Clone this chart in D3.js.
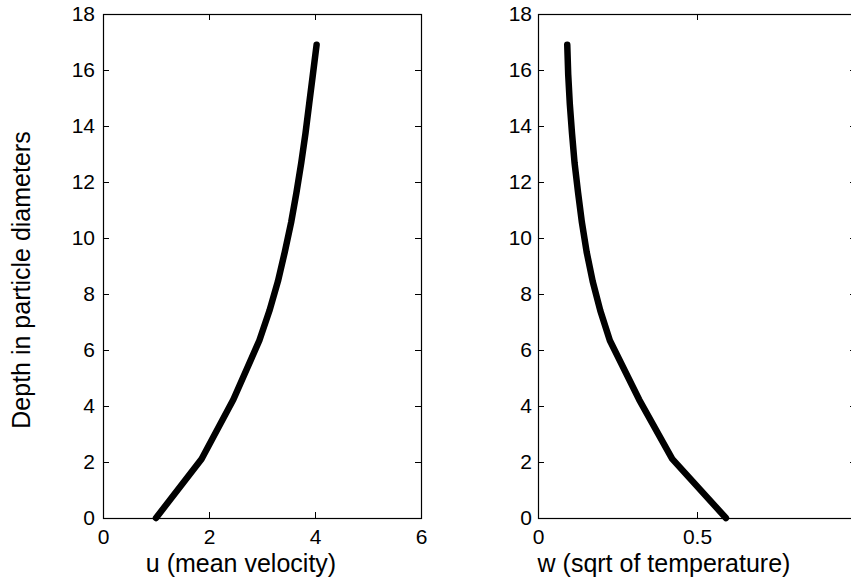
<!DOCTYPE html>
<html>
<head>
<meta charset="utf-8">
<script src="https://cdn.jsdelivr.net/npm/d3@7"></script>
<style>
  html, body { margin: 0; padding: 0; background: #fff; }
  svg { display: block; font-family: "Liberation Sans", Arial, Helvetica, sans-serif; }
</style>
</head>
<body>
<svg id="chart" width="851" height="579"></svg>
<script>
// Depth below the surface, in particle diameters
const depth = [0, 2.11, 4.23, 6.34, 7.4, 8.45, 9.5, 10.56, 11.62, 12.68, 13.73, 14.79, 15.84, 16.9];
// Mean velocity profile u(depth)
const meanVelocity = [1.0, 1.86, 2.46, 2.95, 3.14, 3.30, 3.43, 3.55, 3.65, 3.74, 3.82, 3.89, 3.96, 4.03];
// Square root of granular temperature w(depth)
const sqrtTemperature = [0.591, 0.422, 0.318, 0.226, 0.196, 0.172, 0.153, 0.138, 0.126, 0.115, 0.107, 0.100, 0.095, 0.092];

const yTicks = [0, 2, 4, 6, 8, 10, 12, 14, 16, 18];
const uTicks = [0, 2, 4, 6];
const wTicks = [0, 0.5, 1];

const yLabel = "Depth in particle diameters";
const uLabel = "u (mean velocity)";
const wLabel = "w (sqrt of temperature)";

const svg = d3.select("#chart");
svg.append("rect").attr("width", 851).attr("height", 579).attr("fill", "#fff");

const plotTop = 14, plotBottom = 518;
const tickFont = 21, labelFont = 25, tickLen = 6;

function panel(opts) {
  const x = d3.scaleLinear().domain(opts.xDomain).range(opts.xRange);
  const y = d3.scaleLinear().domain([0, 18]).range([plotBottom, plotTop]);
  const g = svg.append("g");
  const fmt = d3.format("~g");

  const styleAxis = sel => {
    sel.select(".domain").remove();
    sel.selectAll(".tick line").attr("stroke", "#000").attr("stroke-width", 1);
    sel.selectAll(".tick text").attr("fill", "#000").style("font-size", tickFont + "px")
      .style("font-family", '"Liberation Sans", Arial, sans-serif');
  };

  // bottom axis with labels, ticks pointing inward
  g.append("g").attr("transform", `translate(0,${plotBottom})`)
    .call(d3.axisBottom(x).tickValues(opts.xTicks).tickFormat(fmt).tickSize(-tickLen).tickPadding(11))
    .call(styleAxis);
  // top mirror ticks
  g.append("g").attr("transform", `translate(0,${plotTop})`)
    .call(d3.axisTop(x).tickValues(opts.xTicks).tickFormat("").tickSize(-tickLen))
    .call(styleAxis);
  // left axis with labels
  g.append("g").attr("transform", `translate(${opts.xRange[0]},0)`)
    .call(d3.axisLeft(y).tickValues(yTicks).tickFormat(fmt).tickSize(-tickLen).tickPadding(opts.yPad))
    .call(styleAxis);
  // right mirror ticks
  g.append("g").attr("transform", `translate(${opts.xRange[1]},0)`)
    .call(d3.axisRight(y).tickValues(yTicks).tickFormat("").tickSize(-tickLen))
    .call(styleAxis);

  // plot box
  g.append("rect")
    .attr("x", opts.xRange[0] + 0.5).attr("y", plotTop + 0.5)
    .attr("width", opts.xRange[1] - opts.xRange[0]).attr("height", plotBottom - plotTop)
    .attr("fill", "none").attr("stroke", "#000").attr("stroke-width", 1.2);

  // profile curve
  const pts = depth.map((d, i) => [opts.values[i], d]);
  g.append("path")
    .datum(pts)
    .attr("fill", "none")
    .attr("stroke", "#000")
    .attr("stroke-width", 6.5)
    .attr("stroke-linejoin", "round")
    .attr("stroke-linecap", "round")
    .attr("d", d3.line().x(p => x(p[0])).y(p => y(p[1])));

  // x-axis title
  g.append("text")
    .attr("x", (opts.xRange[0] + opts.xRange[1]) / 2 + opts.labelShift)
    .attr("y", 572)
    .attr("text-anchor", "middle")
    .style("font-size", labelFont + "px")
    .attr("fill", "#000")
    .text(opts.xLabel);
}

panel({ xDomain: [0, 6], xRange: [103, 421], xTicks: uTicks, values: meanVelocity,
        xLabel: uLabel, yPad: 8, labelShift: -21 });
panel({ xDomain: [0, 1], xRange: [538, 856], xTicks: wTicks, values: sqrtTemperature,
        xLabel: wLabel, yPad: 6, labelShift: -33 });

// shared y-axis title
svg.append("text")
  .attr("transform", "translate(30,280) rotate(-90)")
  .attr("text-anchor", "middle")
  .style("font-size", labelFont + "px")
  .attr("fill", "#000")
  .text(yLabel);
</script>
</body>
</html>
